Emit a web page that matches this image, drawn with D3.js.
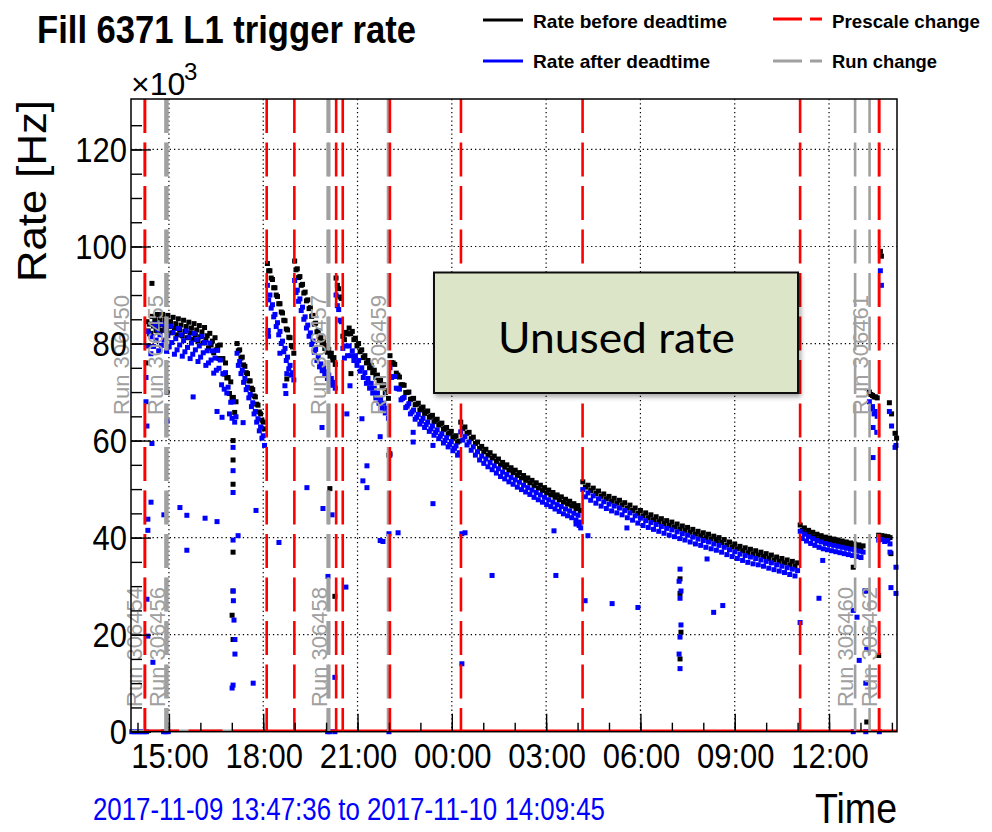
<!DOCTYPE html>
<html><head><meta charset="utf-8">
<script src="https://cdn.jsdelivr.net/npm/d3@7"></script>
<style>html,body{margin:0;padding:0;background:#fff;} svg{display:block;}</style>
</head><body>
<svg id="c" width="992" height="832"></svg>
<script>
// ---------------- DATA ----------------
const titleText = "Fill 6371 L1 trigger rate";
const rangeStart = "2017-11-09 13:47:36";
const rangeEnd = "2017-11-10 14:09:45";
const yTicks = [0, 20, 40, 60, 80, 100, 120];
const yTickLabels = ["0", "20", "40", "60", "80", "100", "120"];
const legendLabels = ["Rate before deadtime", "Rate after deadtime", "Prescale change", "Run change"];

// times in hours since 2017-11-09 00:00
const prescaleChanges = [14.24, 18.11, 18.99, 20.32, 20.53, 22.03, 24.29, 28.16, 35.08, 37.60];
const runChanges = [13.7933, 14.22, 14.89, 14.95, 20.05, 20.10, 21.97, 36.83, 37.29, 37.58];
const runLabels = ["Run 306450", "Run 306454", "Run 306455", "Run 306456", "Run 306457", "Run 306458", "Run 306459", "Run 306460", "Run 306461", "Run 306462"];
const runLabelRow = ["upper", "lower", "upper", "lower", "upper", "lower", "upper", "lower", "upper", "lower"];

// regularly sampled stretches (kHz): start hour, step (minutes)
const plateauBefore = [84.5, 82.6, 84.0, 82.1, 85.6, 83.6, 84.9, 82.7, 86.0, 83.8, 84.9, 82.7, 86.0, 83.8, 84.9, 82.6, 85.8, 83.5, 84.5, 82.2, 85.4, 83.1, 84.1, 81.8, 85.1, 82.8, 83.8, 81.6, 84.8, 82.5, 83.5, 81.2, 84.4, 82.2, 83.2, 80.9, 84.1, 81.8, 82.8, 80.5, 83.7, 81.4, 82.4, 80.1, 83.3, 80.8, 81.6, 79.1, 82.1, 79.7, 80.5, 78.1, 81.2, 78.7, 79.5, 76.9, 79.7, 76.8, 76.9, 73.7, 76.0, 72.9, 73.0, 69.7, 72.1, 68.8, 68.9, 65.8, 68.0];
const plateauAfter = [82.5, 79.5, 82.0, 77.9, 81.4, 79.4, 84.0, 80.7, 82.9, 78.5, 81.8, 79.6, 84.0, 80.7, 82.9, 78.4, 81.6, 79.3, 83.6, 80.2, 82.3, 77.8, 81.0, 78.7, 83.1, 79.7, 81.8, 77.4, 80.6, 78.3, 82.6, 79.2, 81.3, 76.9, 80.1, 77.8, 82.1, 78.7, 80.8, 76.3, 79.5, 77.2, 81.5, 78.1, 80.2, 75.5, 78.5, 76.0, 80.1, 76.6, 78.5, 73.9, 77.0, 74.5, 78.6, 74.9, 76.6, 71.5, 73.8, 70.6, 74.0, 69.8, 71.0, 65.5, 67.9, 64.6, 68.0, 63.8, 64.9];
const spikeBefore = [80, 78.5, 78.7, 77, 77.2, 75.6, 75.3, 74, 73.8, 72.3, 72.3, 70.8, 70.5, 69.2, 69, 67.5, 67.3, 65.9, 65.5, 64.2, 63.8, 62.4];
const spikeAfter = [78, 75.5, 76.3, 73.8, 74.5, 72, 72.8, 70.5, 71, 68.8, 69.5, 67, 67.8, 65.5, 66, 63.8, 64.5, 62, 62.8, 60.5, 61, 59];
const fill2Before = [96.5, 95, 95, 93.5, 93.2, 91.5, 91.5, 90, 89.7, 88.2, 88.2, 86.5, 86.3, 84.8, 84.7, 83, 82.8, 81.3, 81.2, 79.6, 79.3, 78];
const fill2After = [92, 89, 90, 87.3, 88, 85.5, 86, 83.5, 84.3, 81.8, 82.5, 80, 80.5, 78.3, 79, 76.5, 77.2, 74.8, 75.5, 73.5, 74, 72.5];
const fill3Before = [97, 95.2, 95.4, 93.6, 93.8, 92, 92.2, 90.4, 90.6, 88.8, 89, 87.2, 87.4, 85.6, 85.8, 84, 84.2, 82.4, 82.6, 80.8, 81.2, 79.8, 80.4, 79, 79.6, 78.2, 78.8, 77.4, 78, 76.6, 77.1, 75.7];
const fill3After = [93, 90.5, 91, 88.7, 89.2, 86.8, 87.5, 85, 85.5, 83.2, 83.8, 81.5, 82.2, 79.8, 80.5, 78.2, 78.8, 76.5, 77.3, 75.2, 75.8, 74.4, 75, 73.6, 74.2, 72.8, 73.5, 72.1, 72.8, 71.4, 72, 70.8];
const fill3bBefore = [93.5, 92, 91.3, 89.6, 89.3];
const fill3bAfter = [90, 87.8, 87, 84.8, 84.5];
const fill4Before = [81.5, 80.8, 82.3, 82, 83.2, 82, 82.5, 80.8, 81.1, 79.5, 80, 78.3, 78.7, 77.1, 77.5, 76, 76.5, 75, 75.5, 74, 74.5, 73, 73.5, 72, 72.5, 71, 71.5, 69.9, 70.3, 68.7];
const fill4After = [79, 77, 79.5, 77.5, 79.5, 77.5, 78.5, 76.5, 77.5, 75.5, 76.5, 74.3, 75, 73, 74, 71.8, 72.8, 70.8, 71.8, 69.8, 70.8, 68.8, 69.8, 67.7, 68.7, 66.7, 67.7, 65.7, 66.7, 64.6];
const fill5Before = [77.5, 76.1, 76.0, 75.7, 73.9, 73.5, 73.1, 71.5, 71.5, 71.4, 69.9, 69.9, 70.0, 68.5, 68.6, 68.7, 67.4, 67.5, 67.7, 66.3, 66.6, 66.9, 65.6, 65.9, 66.1, 64.8, 65.0, 65.2, 63.9, 64.2, 64.4, 63.2, 63.4, 63.6, 62.3, 62.5, 62.7, 61.4, 61.6, 61.9, 60.6, 60.8, 61.0, 59.7, 59.9];
const fill5After = [75.0, 73.0, 73.2, 73.2, 70.8, 70.7, 70.6, 68.4, 68.7, 68.9, 66.8, 67.1, 67.6, 65.5, 65.9, 66.3, 64.4, 64.8, 65.4, 63.4, 64.0, 64.6, 62.7, 63.3, 63.8, 61.9, 62.4, 63.0, 61.1, 61.7, 62.2, 60.4, 60.9, 61.4, 59.5, 60.0, 60.6, 58.7, 59.2, 59.8, 57.9, 58.4, 58.9, 57.0, 57.5];
const fill6Before = [63.8, 62.5, 62.8, 61.5, 61.7, 60.4, 60.7, 59.4, 59.7, 58.4, 58.8, 57.7, 58.2, 57.0, 57.5, 56.4, 56.8, 55.7, 56.2, 55.0, 55.5, 54.5, 55.0, 53.9, 54.4, 53.4, 53.9, 52.8, 53.4, 52.3, 52.8, 51.8, 52.3, 51.3, 51.8, 50.7, 51.3, 50.2, 50.8, 49.7, 50.3, 49.2, 49.8, 48.8, 49.3, 48.3, 48.8, 47.8, 48.4, 47.3, 47.9, 46.9, 47.5, 46.5, 47.0, 46.0, 46.6, 45.6];
const fill6After = [61.8, 60.1, 60.8, 59.1, 59.7, 58.0, 58.7, 57.0, 57.7, 56.0, 56.8, 55.3, 56.2, 54.6, 55.5, 54.0, 54.8, 53.3, 54.2, 52.6, 53.5, 52.1, 53.0, 51.5, 52.4, 51.0, 51.9, 50.4, 51.4, 49.9, 50.8, 49.4, 50.3, 48.9, 49.8, 48.3, 49.3, 47.8, 48.8, 47.3, 48.3, 46.8, 47.8, 46.4, 47.3, 45.9, 46.8, 45.4, 46.4, 44.9, 45.9, 44.5, 45.5, 44.1, 45.0, 43.6, 44.6, 43.2];
const fill7Before = [51.5, 50.4, 50.8, 49.7, 50.2, 49.1, 49.6, 48.5, 49.0, 48.0, 48.5, 47.5, 48.1, 47.1, 47.7, 46.7, 47.2, 46.1, 46.7, 45.6, 46.1, 45.0, 45.6, 44.5, 45.1, 44.1, 44.7, 43.7, 44.3, 43.3, 43.9, 42.9, 43.5, 42.5, 43.2, 42.2, 42.8, 41.8, 42.4, 41.5, 42.1, 41.1, 41.7, 40.7, 41.3, 40.4, 41.0, 40.0, 40.7, 39.7, 40.3, 39.4, 40.0, 39.0, 39.6, 38.5, 39.1, 38.1, 38.7, 37.7, 38.2, 37.3, 37.9, 36.9, 37.6, 36.6, 37.3, 36.4, 37.0, 36.1, 36.7, 35.7, 36.4, 35.4, 36.0, 35.1, 35.7, 34.8, 35.4, 34.4, 35.1, 34.1, 34.8];
const fill7After = [49.9, 48.4, 49.2, 47.7, 48.6, 47.1, 48.0, 46.5, 47.4, 46.0, 46.9, 45.5, 46.5, 45.1, 46.1, 44.7, 45.6, 44.1, 45.1, 43.6, 44.5, 43.0, 44.0, 42.5, 43.5, 42.1, 43.1, 41.7, 42.7, 41.3, 42.3, 40.9, 41.9, 40.5, 41.6, 40.2, 41.2, 39.8, 40.8, 39.5, 40.5, 39.1, 40.1, 38.7, 39.7, 38.4, 39.4, 38.0, 39.1, 37.7, 38.7, 37.4, 38.4, 37.0, 38.0, 36.5, 37.5, 36.1, 37.1, 35.7, 36.6, 35.3, 36.3, 34.9, 36.0, 34.6, 35.7, 34.4, 35.4, 34.1, 35.1, 33.7, 34.8, 33.4, 34.4, 33.1, 34.1, 32.8, 33.8, 32.4, 33.5, 32.1, 33.2];
const fill8Before = [42.6, 41.5, 42.0, 41.0, 41.5, 40.5, 41.1, 40.1, 40.7, 39.7, 40.4, 39.4, 40.1, 39.2, 39.9, 39.0, 39.7, 38.8, 39.5, 38.6, 39.3, 38.4, 39.1, 38.2, 38.9, 38.0, 38.7, 37.8, 38.5, 37.6, 38.3];
const fill8After = [41.3, 39.8, 40.7, 39.3, 40.2, 38.8, 39.8, 38.4, 39.4, 38.0, 39.1, 37.7, 38.8, 37.5, 38.6, 37.3, 38.4, 37.1, 38.2, 36.9, 38.0, 36.7, 37.8, 36.5, 37.6, 36.3, 37.4, 36.1, 37.2, 35.9, 37.0];
const fill9Before = [70, 69.5, 69.3, 69, 69, 68.8];
const fill9After = [68, 66.5, 67, 65.5, 66, 65];
const fill10Before = [99, 98];
const fill10After = [95, 92];

const stretchStart = [14.3, 17.1667, 18.1333, 19.0, 20.3167, 20.5333, 22.0333, 24.2833, 28.1667, 35.0833, 37.2833, 37.6333];
const stretchStep = [2.5, 2.5, 2.4, 2.5, 2.5, 3, 3, 4, 5, 4, 3, 2];
const stretchBefore = [plateauBefore, spikeBefore, fill2Before, fill3Before, fill3bBefore, fill4Before, fill5Before, fill6Before, fill7Before, fill8Before, fill9Before, fill10Before];
const stretchAfter = [plateauAfter, spikeAfter, fill2After, fill3After, fill3bAfter, fill4After, fill5After, fill6After, fill7After, fill8After, fill9After, fill10After];

// isolated points [hour, kHz]
const scatterBefore = [[14.46, 92.4], [14.94, 70], [14.27, 76], [17.04, 60], [17.04, 56], [17.04, 51], [17.04, 37], [17.04, 29], [17.01, 24], [17.04, 19],
  [18.75, 72.7], [20.12, 50.1], [20.28, 27.9], [20.79, 73.8], [22.00, 57], [22.03, 57.3], [36.77, 33.9], [37.20, 2], [37.58, 15.7], [37.17, 29],
  [31.26, 31.5], [31.26, 28.5], [31.29, 20.5], [31.26, 15],
  [37.92, 67.8], [37.99, 65.5], [38.10, 61.5], [38.15, 60.5],
  [37.58, 40.5], [37.68, 40.4], [37.77, 40.3], [37.87, 40.2], [37.94, 40.0], [37.97, 36.7]];
const scatterAfter = [[14.27, 73], [14.27, 68], [14.30, 63], [14.46, 59.4], [14.94, 64], [14.43, 47.3], [14.33, 43.8], [14.33, 41.5], [14.84, 44.7], [15.35, 46.2],
  [15.57, 44.6], [15.57, 37.4], [16.15, 44], [16.53, 43.3], [17.77, 45.6], [14.30, 27.3], [14.33, 19.7], [14.49, 14.3], [15.77, 69], [16.53, 66], [16.69, 64.8], [17.36, 63.7],
  [17.04, 58.6], [17.04, 53.8], [17.04, 49.3], [17.04, 39.5], [17.04, 29], [17.05, 27], [17.07, 23], [17.10, 19], [17.10, 16], [17.04, 9.6], [17.01, 9],
  [17.20, 40.4], [17.68, 10], [18.69, 71.3], [18.72, 69.7], [18.53, 78], [18.75, 73.8], [18.50, 39], [18.15, 82], [18.17, 81.5], [18.16, 82.7],
  [20.06, 32], [20.63, 29.8], [20.28, 11.2], [19.90, 46], [20.19, 44.7], [19.87, 62.7], [19.39, 50.3],
  [21.30, 54.8], [21.17, 51.7], [21.30, 50.3], [21.72, 60.8], [20.66, 65.5], [20.76, 71.3], [21.14, 64.5], [21.81, 39.2], [22.00, 40.8], [22.29, 41],
  [22.77, 61.7], [22.77, 59.7], [23.40, 47], [23.40, 59], [27.25, 41.4], [28.33, 40.4], [29.57, 42], [32.12, 35.6], [25.28, 32.2], [27.31, 32.2], [24.42, 41], [24.32, 40.8], [22.03, 57], [21.72, 39.4], [24.32, 14],
  [27.95, 42.8], [28.05, 42.5], [28.10, 42.0],
  [31.26, 33.5], [31.23, 31], [31.29, 29], [31.26, 27.5], [31.29, 22], [31.26, 19.5], [31.23, 16], [31.26, 13],
  [28.24, 27], [29.10, 26.4], [29.92, 25.6], [32.33, 24.6], [32.62, 26],
  [35.80, 35.3], [35.68, 27.5], [35.08, 22.5], [36.77, 25], [36.89, 23.6], [36.96, 14.7], [37.14, 29], [37.17, 10], [37.20, 17], [37.40, 62.7], [37.52, 61.7], [37.40, 56.5],
  [37.94, 37], [38.13, 33.9], [37.97, 29.7], [38.13, 28.5], [37.92, 66], [37.99, 63], [38.10, 58.6], [38.13, 59],
  [37.58, 39.5], [37.68, 39.6], [37.77, 39.2], [37.87, 39.4], [37.94, 38.7],
  [13.82, 0], [13.90, 0], [13.98, 0], [14.06, 0], [14.14, 0], [14.22, 0], [14.29, 0], [14.83, 0], [14.90, 0], [14.98, 0], [20.05, 0], [20.12, 0], [20.28, 0], [22.00, 0], [36.77, 0], [37.17, 0], [37.60, 0]];

// ---------------- DRAWING ----------------
const svg = d3.select("#c");
const FONT = "'Liberation Sans', Arial, Helvetica, sans-serif";
const parse = d3.timeParse("%Y-%m-%d %H:%M:%S");
const t0 = parse(rangeStart), t1 = parse(rangeEnd);
const dayBase = new Date(2017, 10, 9, 0, 0, 0);
const hDate = h => new Date(+dayBase + Math.round(h * 3600000));

const L = 131, R = 897, T = 99, B = 731.7;
const x = d3.scaleTime().domain([t0, t1]).range([L, R]);
const y = d3.scaleLinear().domain([0, 130.4]).range([B, T]);

function txt(str, x0, y0, o) {
  const t = svg.append("text")
    .attr("transform", `translate(${x0},${y0})` + (o.rot ? ` rotate(${o.rot})` : "") + ` scale(1,${o.sy || 1})`)
    .attr("font-family", o.family || FONT)
    .attr("font-size", o.size)
    .attr("font-weight", o.weight || "normal")
    .attr("fill", o.fill || "#000")
    .attr("text-anchor", o.anchor || "start")
    .text(str);
  if (o.len) t.attr("textLength", o.len).attr("lengthAdjust", "spacingAndGlyphs");
  return t;
}

const defs = svg.append("defs");
const f = defs.append("filter").attr("id", "sh").attr("x", "-10%").attr("y", "-10%").attr("width", "130%").attr("height", "140%");
f.append("feDropShadow").attr("dx", 2).attr("dy", 3).attr("stdDeviation", 2.5).attr("flood-color", "#000").attr("flood-opacity", 0.35);

// grid
const majorX = x.ticks(d3.timeHour.every(3));
const g = svg.append("g");
g.selectAll("line.gx").data(majorX).join("line")
  .attr("x1", d => x(d)).attr("x2", d => x(d)).attr("y1", T).attr("y2", B)
  .attr("stroke", "#000").attr("stroke-width", 1.2).attr("stroke-dasharray", "1.3,3");
g.selectAll("line.gy").data(yTicks.filter(v => v > 0)).join("line")
  .attr("x1", L).attr("x2", R).attr("y1", d => y(d)).attr("y2", d => y(d))
  .attr("stroke", "#000").attr("stroke-width", 1.2).attr("stroke-dasharray", "1.3,3");

// data points
function pointsFor(list) {
  const pts = [];
  stretchStart.forEach((s, i) => {
    list[i].forEach((v, k) => pts.push([s + k * stretchStep[i] / 60, v]));
  });
  return pts;
}
const beforePts = pointsFor(stretchBefore).concat(scatterBefore);
const afterPts = pointsFor(stretchAfter).concat(scatterAfter);
const MS = 5;
svg.append("g").selectAll("rect").data(beforePts).join("rect")
  .attr("x", d => x(hDate(d[0])) - MS / 2).attr("y", d => y(d[1]) - MS / 2)
  .attr("width", MS).attr("height", MS).attr("fill", "#000");
svg.append("g").selectAll("rect").data(afterPts).join("rect")
  .attr("x", d => x(hDate(d[0])) - MS / 2).attr("y", d => y(d[1]) - MS / 2)
  .attr("width", MS).attr("height", MS).attr("fill", "#0000ff");

// baseline lines at zero
svg.append("line").attr("x1", L).attr("x2", x(hDate(18.11))).attr("y1", y(0) - 1).attr("y2", y(0) - 1)
  .attr("stroke", "#a0a0a0").attr("stroke-width", 2.5);
svg.append("line").attr("x1", x(hDate(14.24))).attr("x2", x(hDate(18.11))).attr("y1", y(0) - 1).attr("y2", y(0) - 1)
  .attr("stroke", "#ff0000").attr("stroke-width", 2.5).attr("stroke-dasharray", "34,9.5");
svg.append("line").attr("x1", x(hDate(18.11))).attr("x2", R).attr("y1", y(0) - 1).attr("y2", y(0) - 1)
  .attr("stroke", "#ff0000").attr("stroke-width", 2.5);

// vertical change lines
svg.append("g").selectAll("line").data(runChanges.slice(1)).join("line")
  .attr("x1", d => x(hDate(d))).attr("x2", d => x(hDate(d))).attr("y1", T).attr("y2", B)
  .attr("stroke", "#a0a0a0").attr("stroke-width", 2.6).attr("stroke-dasharray", "34,9.5");
svg.append("g").selectAll("line").data(prescaleChanges).join("line")
  .attr("x1", d => x(hDate(d))).attr("x2", d => x(hDate(d))).attr("y1", T).attr("y2", B)
  .attr("stroke", "#ff0000").attr("stroke-width", 2.6).attr("stroke-dasharray", "34,9.5");

// run labels
runChanges.forEach((h, i) => {
  const lx = x(hDate(h)) - 2;
  const by = runLabelRow[i] === "upper" ? 415 : 707;
  txt(runLabels[i], lx, by, { size: 22, rot: -90, fill: "#a0a0a0", len: 120 });
});

// frame
svg.append("rect").attr("x", L).attr("y", T).attr("width", R - L).attr("height", B - T)
  .attr("fill", "none").attr("stroke", "#000").attr("stroke-width", 1.5);

// axes ticks
const ax = svg.append("g").attr("transform", `translate(0,${B})`);
ax.call(d3.axisBottom(x).ticks(d3.timeHour.every(3)).tickSize(-18).tickFormat(""));
const axm = svg.append("g").attr("transform", `translate(0,${B})`);
axm.call(d3.axisBottom(x).ticks(d3.timeHour.every(1)).tickSize(-9).tickFormat(""));
const ay = svg.append("g").attr("transform", `translate(${L},0)`);
ay.call(d3.axisLeft(y).tickValues(yTicks).tickSize(-20).tickFormat(""));
const aym = svg.append("g").attr("transform", `translate(${L},0)`);
aym.call(d3.axisLeft(y).tickValues(d3.range(0, 130, 5)).tickSize(-11).tickFormat(""));
[ax, axm, ay, aym].forEach(a => {
  a.select(".domain").remove();
  a.selectAll("line").attr("stroke", "#000").attr("stroke-width", 1.4);
});

// tick labels
const fmt = d3.timeFormat("%H:%M");
majorX.forEach(d => txt(fmt(d), x(d) + 1, 768, { size: 31, sy: 1.15, anchor: "middle" }));
yTicks.forEach((v, i) => txt(yTickLabels[i], 127, y(v) + 12.7, { size: 31, sy: 1.15, anchor: "end" }));

// axis titles and exponent
txt("Rate [Hz]", 46, 191, { size: 40, rot: -90, anchor: "middle", len: 182 });
txt("Time", 897, 823, { size: 38, sy: 1.1, anchor: "end", len: 82 });
txt("\u00d710", 131, 95, { size: 32 });
txt("3", 184, 80, { size: 24 });

// title
txt(titleText, 37, 43, { size: 34.6, sy: 1.13, weight: "bold", len: 379 });

// date range
txt(rangeStart + " to " + rangeEnd, 93, 820, { size: 25.6, sy: 1.2, fill: "#0000ff", len: 512 });

// legend
const leg = [
  { x1: 483, x2: 523, y: 20, color: "#000", dash: null, tx: 533, ty: 28, len: 194 },
  { x1: 483, x2: 523, y: 61, color: "#0000ff", dash: null, tx: 533, ty: 68, len: 177 },
  { x1: 773, x2: 822, y: 19, color: "#ff0000", dash: "29,8,12,20", tx: 832, ty: 28, len: 148 },
  { x1: 773, x2: 822, y: 61, color: "#a0a0a0", dash: "29,8,12,20", tx: 832, ty: 68, len: 105 }
];
leg.forEach((d, i) => {
  const ln = svg.append("line").attr("x1", d.x1).attr("x2", d.x2).attr("y1", d.y).attr("y2", d.y)
    .attr("stroke", d.color).attr("stroke-width", 3);
  if (d.dash) ln.attr("stroke-dasharray", d.dash);
  txt(legendLabels[i], d.tx, d.ty, { size: 18, sy: 1.03, weight: "bold", len: d.len });
});

// annotation box
svg.append("rect").attr("x", 434).attr("y", 272.5).attr("width", 364).attr("height", 120.5)
  .attr("fill", "#dde5c8").attr("stroke", "#111").attr("stroke-width", 2).attr("filter", "url(#sh)");
txt("Unused rate", 616.5, 352.7, { size: 43, anchor: "middle", family: "Lato, 'Open Sans', sans-serif", len: 237 });
</script>
</body></html>
